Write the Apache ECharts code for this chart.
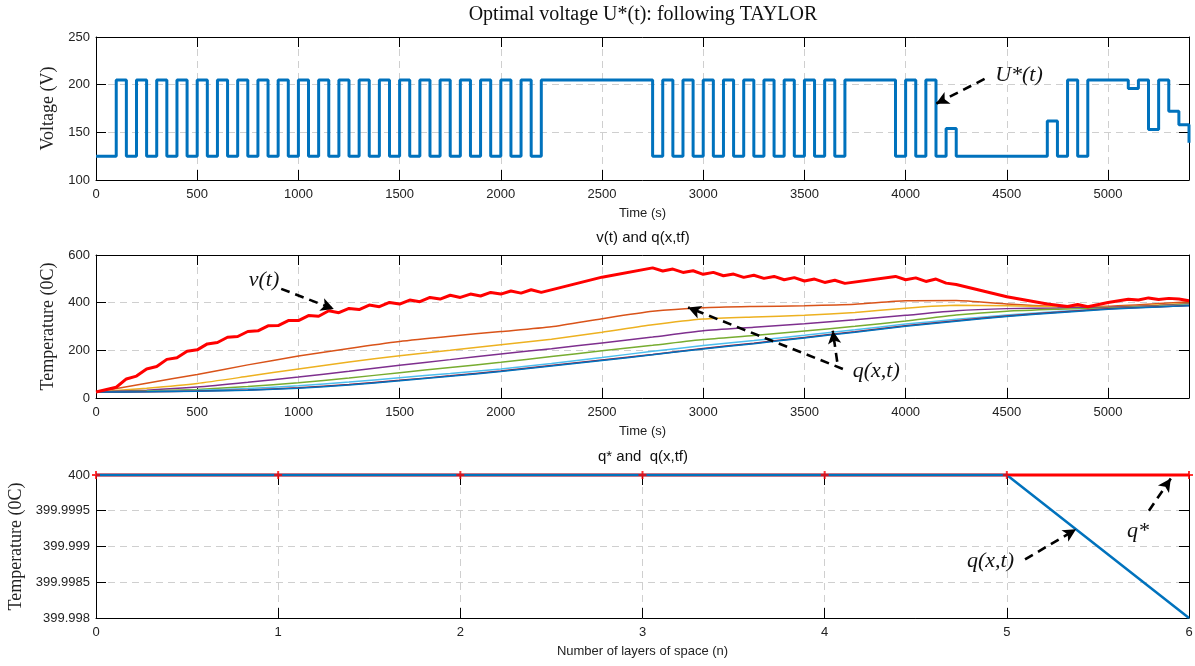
<!DOCTYPE html>
<html>
<head>
<meta charset="utf-8">
<script src="https://cdn.jsdelivr.net/npm/echarts@6/dist/echarts.min.js"></script>
<style>
  html, body { margin: 0; padding: 0; background: #fff; }
  #chart { width: 1195px; height: 666px; }
</style>
</head>
<body>
<div id="chart"></div>
<script>
// panel 1: optimal voltage, each value holds from its time until the next one
var uTimes = [0,
  100, 150, 200, 250, 300, 350, 400, 450, 500, 550,
  600, 650, 700, 750, 800, 850, 900, 950, 1000, 1050,
  1100, 1150, 1200, 1250, 1300, 1350, 1400, 1450, 1500, 1550,
  1600, 1650, 1700, 1750, 1800, 1850, 1900, 1950, 2000, 2050,
  2100, 2150, 2200, 2750,
  2800, 2850, 2900, 2950, 3000, 3050, 3100, 3150, 3200, 3250,
  3300, 3350, 3400, 3450, 3500, 3550, 3600, 3650, 3700, 3950,
  4000, 4050, 4100, 4150, 4200, 4250, 4700, 4750, 4800, 4850, 4900,
  5100, 5150, 5200, 5250, 5300, 5350, 5400];
var uVolts = [125,
  205, 125, 205, 125, 205, 125, 205, 125, 205, 125,
  205, 125, 205, 125, 205, 125, 205, 125, 205, 125,
  205, 125, 205, 125, 205, 125, 205, 125, 205, 125,
  205, 125, 205, 125, 205, 125, 205, 125, 205, 125,
  205, 125, 205, 125,
  205, 125, 205, 125, 205, 125, 205, 125, 205, 125,
  205, 125, 205, 125, 205, 125, 205, 125, 205, 125,
  205, 125, 205, 125, 154, 125, 162, 125, 205, 125, 205,
  196, 205, 153, 205, 172, 158, 139];

// panel 2: v(t)
var vTimes = [0, 100, 150, 200, 250, 300, 350, 400, 450, 500, 550, 600, 650, 700, 750,
  800, 850, 900, 950, 1000, 1050, 1100, 1150, 1200, 1250, 1300, 1350, 1400, 1450,
  1500, 1550, 1600, 1650, 1700, 1750, 1800, 1850, 1900, 1950, 2000, 2050, 2100, 2150,
  2200, 2500, 2750, 2800, 2850, 2900, 2950, 3000, 3050, 3100, 3150, 3200, 3250, 3300,
  3350, 3400, 3450, 3500, 3550, 3600, 3650, 3700, 3950, 4000, 4050, 4100, 4150, 4200,
  4250, 4500, 4700, 4750, 4800, 4850, 4900, 5000, 5100, 5150, 5200, 5250, 5300, 5350, 5400];
var vTemps = [25, 45, 80, 92, 122, 132, 162, 169, 196, 202, 227, 233, 255, 258, 279,
  282, 303, 304, 325, 325, 346, 343, 366, 358, 376, 371, 390, 383, 401,
  394, 411, 404, 422, 415, 431, 422, 436, 428, 443, 436, 449, 440, 454,
  443, 507, 546, 533, 541, 527, 534, 519, 527, 513, 520, 506, 515, 502,
  510, 496, 505, 491, 499, 485, 494, 481, 510, 496, 504, 489, 499, 482,
  476, 425, 394, 389, 384, 392, 383, 401, 414, 411, 420, 413, 418, 415, 408];

// panel 2: q(x,t) for the layers
var qTimes = [0, 250, 500, 750, 1000, 1250, 1500, 1750, 2000, 2250, 2500, 2750,
  3000, 3250, 3500, 3750, 4000, 4250, 4500, 4750, 5000, 5250, 5400];
var qLayer1 = [25, 62, 99, 139, 176, 208, 237, 259, 279, 299, 333, 364, 379, 384, 387, 393, 408, 409, 394, 384, 385, 396, 404];
var qLayer2 = [25, 41, 61, 91, 122, 151, 177, 200, 223, 247, 276, 307, 331, 340, 347, 359, 377, 389, 387, 383, 382, 390, 398];
var qLayer3 = [25, 33, 46, 66, 88, 112, 137, 161, 185, 207, 231, 256, 282, 297, 312, 328, 347, 366, 375, 378, 381, 388, 394];
var qLayer4 = [25, 29, 36, 48, 64, 84, 106, 128, 150, 174, 198, 221, 245, 262, 281, 301, 323, 348, 364, 372, 378, 386, 392];
var qLayer5 = [25, 27, 32, 40, 51, 67, 85, 103, 122, 145, 170, 196, 220, 241, 263, 286, 310, 330, 348, 363, 375, 384, 390];
var qLayer6 = [25, 26, 29, 34, 43, 57, 74, 93, 113, 136, 159, 183, 208, 230, 254, 278, 303, 324, 344, 360, 374, 383, 388];
var qLayer7 = [25, 26, 28, 33, 41, 55, 72, 91, 111, 134, 157, 181, 206, 228, 252, 276, 301, 322, 342, 358, 372, 382, 387];

// panel 3: final profile vs target
var layers = [0, 1, 2, 3, 4, 5, 6];
var qStar = [400, 400, 400, 400, 400, 400, 400];
var qFinal = [400, 400, 400, 400, 400, 400, 399.998];

var SANS = "'Liberation Sans', Arial, sans-serif";
var SERIF = "'Liberation Serif', 'Times New Roman', serif";
var GRID_LINE = { color: '#cfcfcf', type: [7, 5], width: 1 };

function zip(xs, ys) {
  return xs.map(function (x, i) { return [x, ys[i]]; });
}

function xAxes(gi, max, interval, name) {
  var base = {
    type: 'value', gridIndex: gi, min: 0, max: max, interval: interval,
    axisLine: { show: true, onZero: false, lineStyle: { color: '#000', width: 1 } },
    axisTick: { show: true, inside: true, length: 10, lineStyle: { color: '#000' } }
  };
  var bottom = Object.assign({}, base, {
    position: 'bottom',
    axisLabel: {
      color: '#222', fontSize: 13, fontFamily: SANS, margin: 8,
      formatter: function (v) { return v % interval === 0 ? String(v) : ''; }
    },
    splitLine: { show: true, lineStyle: GRID_LINE },
    name: name, nameLocation: 'middle', nameGap: 27,
    nameTextStyle: { color: '#222', fontSize: 13, fontFamily: SANS }
  });
  var top = Object.assign({}, base, {
    position: 'top', axisLabel: { show: false }, splitLine: { show: false }
  });
  return [bottom, top];
}

function yAxes(gi, min, max, interval, name, gap) {
  var base = {
    type: 'value', gridIndex: gi, min: min, max: max, interval: interval,
    axisLine: { show: true, onZero: false, lineStyle: { color: '#000', width: 1 } },
    axisTick: { show: true, inside: true, length: 10, lineStyle: { color: '#000' } }
  };
  var left = Object.assign({}, base, {
    position: 'left',
    axisLabel: { color: '#222', fontSize: 13, fontFamily: SANS, margin: 6 },
    splitLine: { show: true, lineStyle: GRID_LINE },
    name: name, nameLocation: 'middle', nameGap: gap,
    nameTextStyle: { color: '#222', fontSize: 18, fontFamily: SERIF }
  });
  var right = Object.assign({}, base, {
    position: 'right', axisLabel: { show: false }, splitLine: { show: false }
  });
  return [left, right];
}

var ARROW = {
  silent: true, symbol: ['none', 'arrow'], symbolSize: [10, 13],
  label: { show: false },
  lineStyle: { color: '#000', type: [9, 6], width: 2.6 },
  animation: false
};
function arrows(list) {
  return Object.assign({}, ARROW, {
    data: list.map(function (a) { return [{ coord: a[0] }, { coord: a[1] }]; })
  });
}
function notes(list) {
  return {
    silent: true, symbol: 'circle', symbolSize: 1,
    itemStyle: { color: 'rgba(0,0,0,0)' },
    label: {
      show: true, position: 'inside', formatter: '{b}',
      fontFamily: SERIF, fontStyle: 'italic', fontSize: 22, color: '#111'
    },
    animation: false,
    data: list.map(function (n) { return { name: n[0], coord: n[1] }; })
  };
}

var qColors = ['#D95319', '#EDB120', '#7E2F8E', '#77AC30', '#4DBEEE', '#A2142F', '#0072BD'];
var qLayers = [qLayer1, qLayer2, qLayer3, qLayer4, qLayer5, qLayer6, qLayer7];

var series = [];
series.push({
  type: 'line', xAxisIndex: 0, yAxisIndex: 0, step: 'end', showSymbol: false,
  data: zip(uTimes, uVolts), lineStyle: { color: '#0072BD', width: 3 },
  markLine: arrows([[[4390, 206], [4150, 180]]]),
  markPoint: notes([['U*(t)', [4560, 210]]])
});
qLayers.forEach(function (arr, i) {
  series.push({
    type: 'line', xAxisIndex: 2, yAxisIndex: 2, showSymbol: false,
    smooth: 0.2,
    data: zip(qTimes, arr), lineStyle: { color: qColors[i], width: 1.5 }
  });
});
series.push({
  type: 'line', xAxisIndex: 2, yAxisIndex: 2, showSymbol: false,
  data: zip(vTimes, vTemps), lineStyle: { color: '#FF0000', width: 3 },
  markLine: arrows([
    [[915, 458], [1175, 373]],
    [[3690, 122], [2925, 380]],
    [[3662, 152], [3640, 282]]
  ]),
  markPoint: notes([['v(t)', [830, 493]], ['q(x,t)', [3855, 112]]])
});
series.push({
  type: 'line', xAxisIndex: 4, yAxisIndex: 4, showSymbol: false, clip: false,
  data: zip(layers, qStar), lineStyle: { color: '#FF0000', width: 3 }
});
series.push({
  type: 'line', xAxisIndex: 4, yAxisIndex: 4, showSymbol: false, clip: false,
  data: zip(layers, qFinal), lineStyle: { color: '#0072BD', width: 2.5 },
  markLine: arrows([
    [[5.10, 399.99882], [5.38, 399.99924]],
    [[5.78, 399.99950], [5.90, 399.99995]]
  ]),
  markPoint: notes([['q(x,t)', [4.91, 399.99879]], ['q*', [5.72, 399.99922]]])
});
series.push({
  type: 'scatter', xAxisIndex: 4, yAxisIndex: 4, clip: false, z: 5,
  symbol: 'path://M3,0h2v3h3v2h-3v3h-2v-3h-3v-2h3z', symbolSize: 8,
  itemStyle: { color: '#FF0000' },
  data: zip(layers, qStar)
});

var chart = echarts.init(document.getElementById('chart'));
chart.setOption({
  animation: false,
  backgroundColor: '#fff',
  grid: [
    { left: 96, width: 1093, top: 37, height: 143, outerBoundsMode: 'none' },
    { left: 96, width: 1093, top: 255, height: 143, outerBoundsMode: 'none' },
    { left: 96, width: 1093, top: 475, height: 143, outerBoundsMode: 'none' }
  ],
  xAxis: [].concat(
    xAxes(0, 5400, 500, 'Time (s)'),
    xAxes(1, 5400, 500, 'Time (s)'),
    xAxes(2, 6, 1, 'Number of layers of space (n)')
  ),
  yAxis: [].concat(
    yAxes(0, 100, 250, 50, 'Voltage (V)', 32),
    yAxes(1, 0, 600, 200, 'Temperature (0C)', 32),
    yAxes(2, 399.998, 400, 0.0005, 'Temperature (0C)', 65)
  ),
  graphic: [
    { type: 'text', x: 643, y: 15, style: { text: 'Optimal voltage U*(t): following TAYLOR', fill: '#111',
      font: '20px ' + SERIF, align: 'center', verticalAlign: 'middle' } },
    { type: 'text', x: 643, y: 238, style: { text: 'v(t) and q(x,tf)', fill: '#111',
      font: '15px ' + SANS, align: 'center', verticalAlign: 'middle' } },
    { type: 'text', x: 643, y: 457, style: { text: 'q* and  q(x,tf)', fill: '#111',
      font: '15px ' + SANS, align: 'center', verticalAlign: 'middle' } }
  ],
  series: series
});
</script>
</body>
</html>
